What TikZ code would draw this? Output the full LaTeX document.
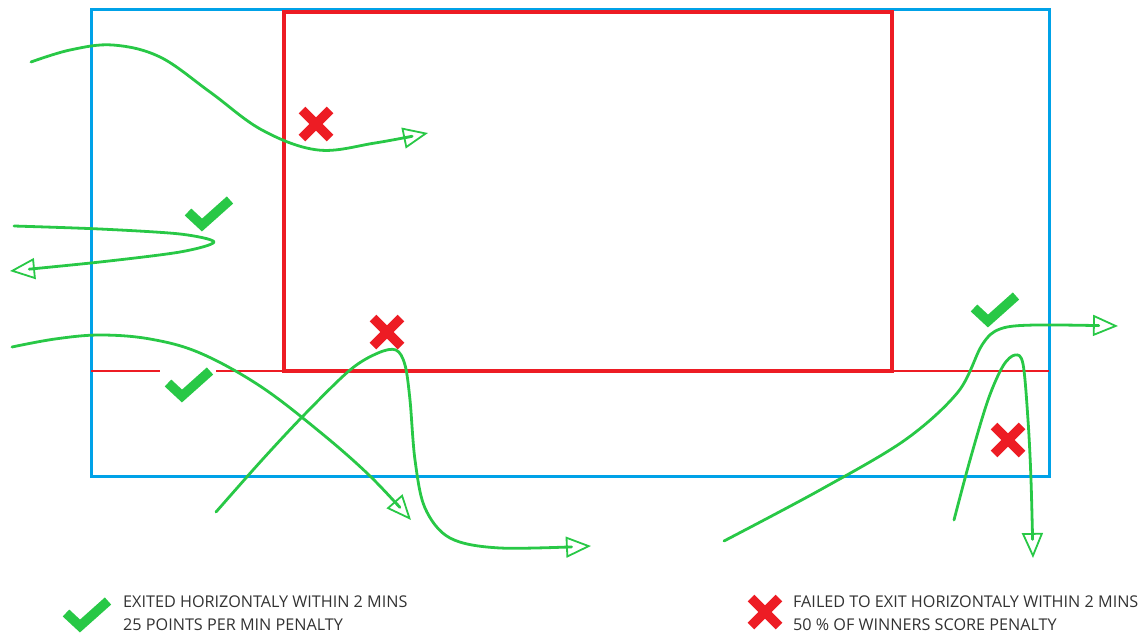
\documentclass[tikz,border=0pt]{standalone}
\usepackage{fontspec}
\setmainfont{Open Sans}
\usetikzlibrary{arrows.meta}
\definecolor{zblue}{RGB}{0,162,232}
\definecolor{zred}{RGB}{237,28,36}
\definecolor{zgreen}{RGB}{40,200,70}
\definecolor{ztext}{RGB}{50,50,50}
\tikzset{
  path/.style={draw=zgreen, line width=2.8pt, line cap=round, line join=round,
    -{Triangle[open, length=25pt, width=21pt, line width=1.8pt]}},
  okmark/.pic={\draw[zgreen, line width=9.5pt, line join=miter] (-22,0) -- (-8,13) -- (20,-12);},
  badmark/.pic={\draw[zred, line width=9.5pt] (-14,-14) -- (14,14) (-14,14) -- (14,-14);},
  legend/.style={anchor=north west, text=ztext, font=\fontsize{16.2}{23}\selectfont, align=left, inner sep=0pt}
}
\begin{document}
\begin{tikzpicture}[x=1pt, y=-1pt]
\useasboundingbox (0,0) rectangle (1141,635);
% frames
\draw[zblue, line width=3pt] (91,9) rectangle (1049,476);
\draw[zred, line width=2.2pt] (91,371) -- (160,371) (216,371) -- (284,371) (892,371) -- (1049,371);
\draw[zred, line width=4pt] (284,12) rectangle (892,371);
% curves
\draw[path] plot[smooth, tension=0.6] coordinates {(31,62) (70,50) (113,45) (160,57) (210,92) (262,130) (318,150) (375,143) (428,133)};
\draw[path] plot[smooth, tension=0.5] coordinates {(14,226) (100,229) (180,234) (214,242) (180,252) (100,262) (10,271)};
\draw[path] plot[smooth, tension=0.6] coordinates {(12,347) (55,339) (100,335) (150,339) (200,353) (260,386) (320,432) (370,476) (411,520)};
\draw[path] plot[smooth, tension=0.55] coordinates {(216,512) (262,460) (305,414) (350,370) (378,353) (396,350) (405,365) (410,400) (415,460) (425,508) (450,538) (500,548) (591,546)};
\draw[path] plot[smooth, tension=0.55] coordinates {(724,541) (820,490) (905,440) (958,392) (982,345) (1000,329) (1035,325) (1118,326)};
\draw[path] plot[smooth, tension=0.55] coordinates {(954,520) (970,460) (988,400) (1003,366) (1015,355) (1023,364) (1028,420) (1031,480) (1033,558)};
% marks
\pic at (210,212) {okmark};
\pic at (190,383) {okmark};
\pic at (996,308) {okmark};
\pic at (316,124) {badmark};
\pic at (387,332) {badmark};
\pic at (1008,440) {badmark};
% legend
\pic at (88,613) {okmark};
\pic at (765,612) {badmark};
\node[legend] (l1) at (123,596) {EXITED HORIZONTALY WITHIN 2 MINS\\25 POINTS PER MIN PENALTY};
\node[legend] (l2) at (793,596) {FAILED TO EXIT HORIZONTALY WITHIN 2 MINS\\50 \% OF WINNERS SCORE PENALTY};
\end{tikzpicture}
\end{document}
